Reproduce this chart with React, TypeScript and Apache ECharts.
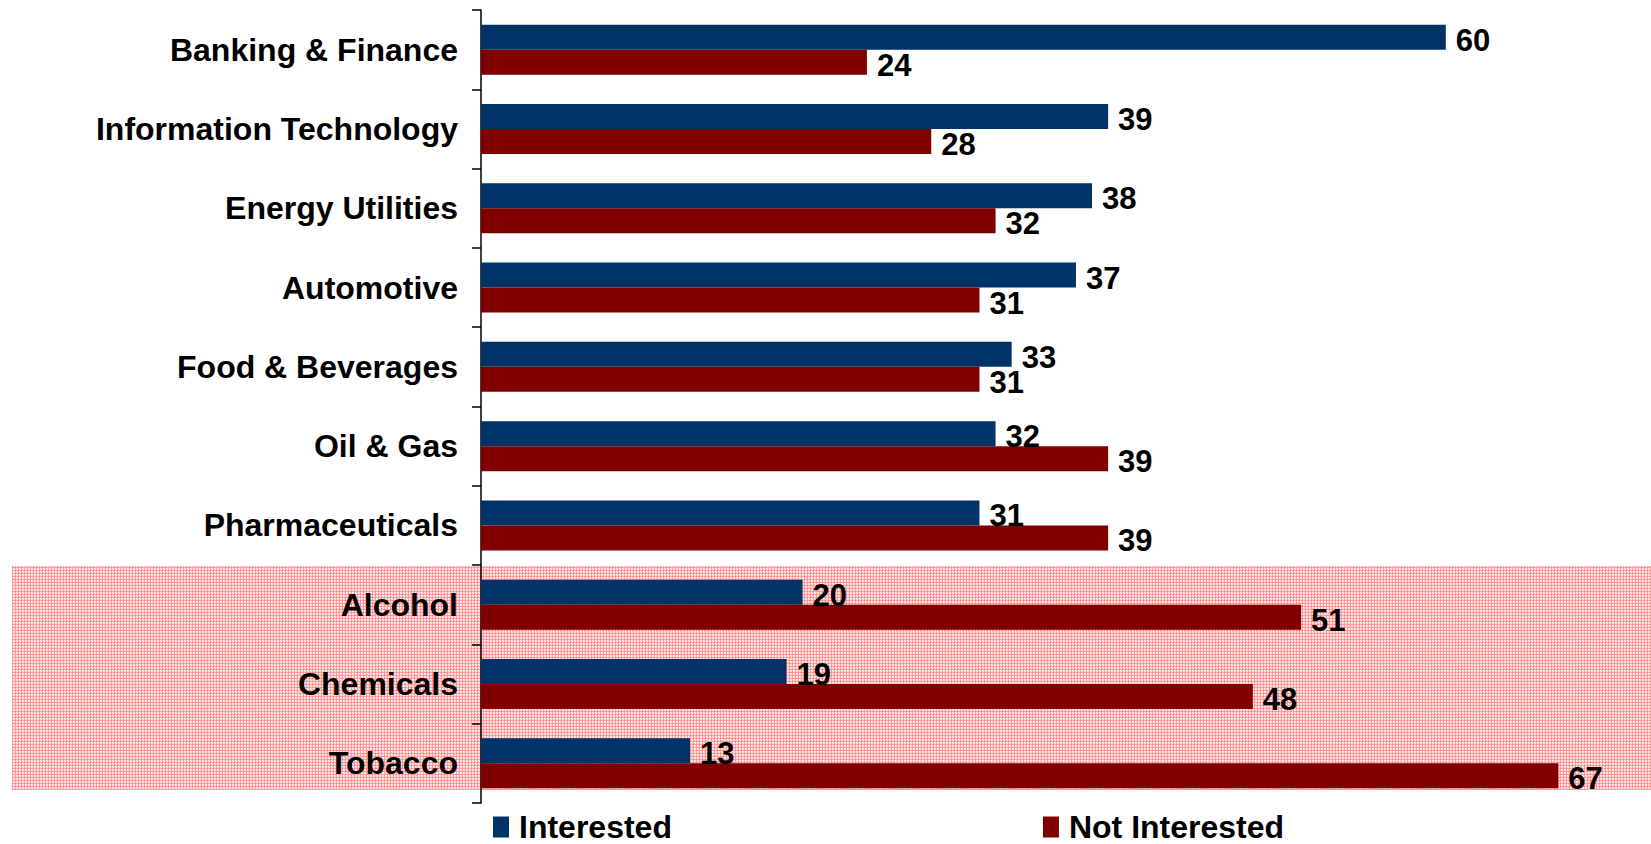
import React, { useEffect, useRef } from "react";
import * as echarts from "echarts";

const categories = [
  "Banking & Finance",
  "Information Technology",
  "Energy Utilities",
  "Automotive",
  "Food & Beverages",
  "Oil & Gas",
  "Pharmaceuticals",
  "Alcohol",
  "Chemicals",
  "Tobacco",
];
const interested = [60, 39, 38, 37, 33, 32, 31, 20, 19, 13];
const notInterested = [24, 28, 32, 31, 31, 39, 39, 51, 48, 67];
const seriesNames = ["Interested", "Not Interested"];
const colors = ["#003366", "#800000"];

function makePattern(): string {
  const c = document.createElement("canvas");
  c.width = 3;
  c.height = 3;
  const ctx = c.getContext("2d")!;
  const px = (x: number, y: number, col: string) => {
    ctx.fillStyle = col;
    ctx.fillRect(x, y, 1, 1);
  };
  px(0, 0, "#ff8a8a");
  px(1, 0, "#ff9f9f");
  px(2, 0, "#ff9f9f");
  px(0, 1, "#ff9f9f");
  px(0, 2, "#ff9f9f");
  px(1, 1, "#ffffff");
  px(2, 1, "#ffd0d0");
  px(1, 2, "#ffd0d0");
  px(2, 2, "#ffe8e8");
  return c.toDataURL();
}

export default function App() {
  const ref = useRef<HTMLDivElement>(null);
  useEffect(() => {
    const chart = echarts.init(ref.current!, undefined, { renderer: "svg" });
    const font = "'Liberation Sans', Arial, sans-serif";
    const labelStyle = {
      show: true,
      position: "right" as const,
      distance: 10,
      offset: [0, 3],
      fontSize: 31,
      fontWeight: "bold" as const,
      color: "#000",
      fontFamily: font,
    };
    chart.setOption({
      animation: false,
      backgroundColor: "#fff",
      graphic: [
        {
          type: "rect",
          z: -10,
          silent: true,
          shape: { x: 12, y: 566, width: 1639, height: 224 },
          style: {
            fill: {
              image: makePattern(),
              repeat: "repeat",
              imageWidth: 3,
              imageHeight: 3,
            } as any,
          },
        },
      ],
      grid: { left: 481, top: 10, width: 1125.6, height: 793, containLabel: false },
      legend: {
        data: seriesNames,
        left: 493,
        top: 811,
        padding: 0,
        icon: "rect",
        itemWidth: 16,
        itemHeight: 21,
        itemGap: 371,
        textStyle: {
          fontSize: 32,
          fontWeight: "bold",
          color: "#000",
          fontFamily: font,
          lineHeight: 24,
          padding: [0, 0, 0, 5],
        },
      },
      xAxis: { type: "value", min: 0, max: 70, show: false },
      yAxis: {
        type: "category",
        data: categories,
        inverse: true,
        axisLine: { show: true, lineStyle: { color: "#000", width: 1.5 } },
        axisTick: { show: true, length: 9, lineStyle: { color: "#000", width: 1.5 } },
        axisLabel: {
          margin: 23,
          fontSize: 32,
          fontWeight: "bold",
          color: "#000",
          fontFamily: font,
          padding: [5, 0, 0, 0],
        },
        splitLine: { show: false },
      },
      series: [
        {
          name: seriesNames[0],
          type: "bar",
          data: interested,
          barWidth: 25,
          barGap: "0%",
          itemStyle: { color: colors[0] },
          label: labelStyle,
        },
        {
          name: seriesNames[1],
          type: "bar",
          data: notInterested,
          barWidth: 25,
          barGap: "0%",
          itemStyle: { color: colors[1] },
          label: labelStyle,
        },
      ],
    });
    return () => chart.dispose();
  }, []);
  return (
    <div
      ref={ref}
      style={{ position: "fixed", left: 0, top: 0, width: 1651, height: 844 }}
    />
  );
}
